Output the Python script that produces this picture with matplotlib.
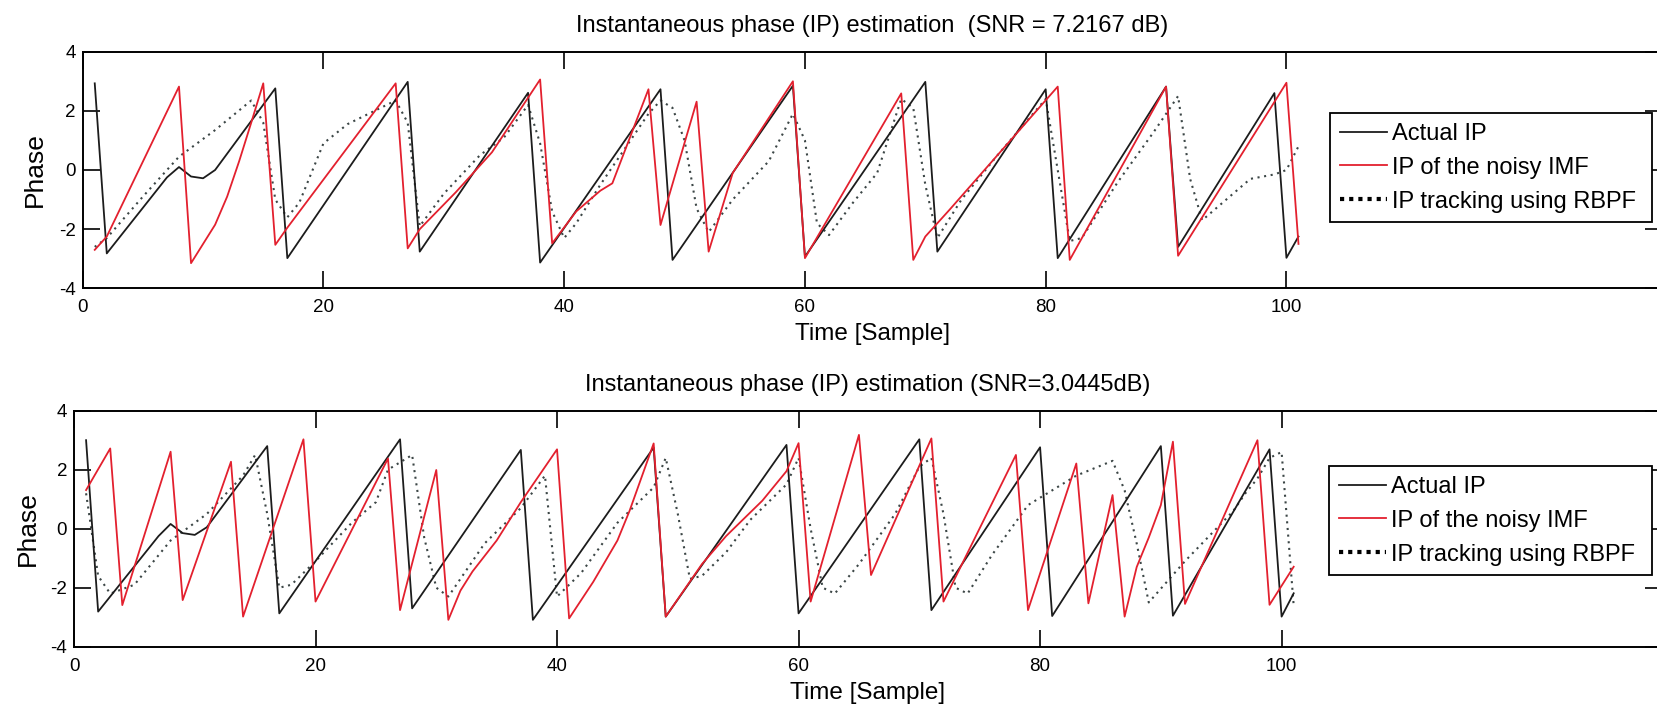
import matplotlib
matplotlib.use("Agg")
import matplotlib.pyplot as plt
import matplotlib.font_manager as fm
from matplotlib.lines import Line2D

# ---------------- data ----------------
# top panel (SNR = 7.2167 dB)
t_actual_top = [1, 2, 7, 8, 9, 10, 11, 16, 17, 27, 28, 37, 38, 48, 49, 59, 60, 70, 71, 80,
                81, 90, 91, 99, 100, 101]
ip_actual_top = [2.93, -2.82, -0.25, 0.1, -0.22, -0.28, 0.0, 2.76, -2.98, 2.98, -2.76, 2.61,
                 -3.13, 2.73, -3.04, 2.85, -2.93, 2.98, -2.76, 2.73, -2.98, 2.82, -2.6, 2.6,
                 -2.97, -2.25]

t_noisy_top = [1, 2, 8, 9, 10, 11, 12, 13, 14, 15, 16, 17, 26, 27, 28, 31, 34, 38, 39, 41,
               43, 44, 47, 48, 51, 52, 54, 59, 60, 68, 69, 70, 72, 81, 82, 90, 91, 100, 101]
ip_noisy_top = [-2.7, -2.25, 2.82, -3.15, -2.5, -1.85, -0.9, 0.3, 1.6, 2.93, -2.53, -1.95,
                2.93, -2.65, -2.0, -0.75, 0.6, 3.06, -2.48, -1.4, -0.7, -0.45, 2.73, -1.86,
                2.31, -2.76, -0.1, 3.0, -2.98, 2.59, -3.04, -2.25, -1.35, 2.82, -3.04, 2.82,
                -2.9, 2.95, -2.5]

t_rbpf_top = [1, 2, 5, 8, 11, 14, 15, 16, 17, 18, 20, 22, 24, 26, 27, 28, 30, 33, 35, 37,
              38, 39, 40, 41, 43, 45, 47, 48, 49, 50, 51, 52, 54, 57, 59, 60, 61, 62, 64, 66,
              68, 69, 70, 71, 73, 76, 80, 81, 82, 83, 86, 89, 91, 92, 93, 95, 97, 99, 100, 101]
ip_rbpf_top = [-2.6, -2.3, -0.9, 0.45, 1.35, 2.35, 1.6, -1.0, -1.6, -1.1, 0.9, 1.55, 1.95,
               2.35, 1.6, -1.9, -0.8, 0.5, 1.1, 2.2, 0.9, -1.4, -2.3, -1.8, -0.5, 0.7, 1.9,
               2.35, 2.1, 1.0, -1.3, -2.1, -1.0, 0.3, 1.9, 1.0, -1.8, -2.2, -1.1, -0.1, 2.4,
               2.1, -0.5, -2.3, -1.0, 0.5, 2.4, 0.0, -2.4, -2.3, -0.4, 1.3, 2.5, -0.3, -1.7,
               -1.0, -0.3, -0.15, 0.0, 0.8]

# bottom panel (SNR = 3.0445 dB)
t_actual_bot = [1, 2, 7, 8, 9, 10, 11, 16, 17, 27, 28, 37, 38, 48, 49, 59, 60, 70, 71, 80,
                81, 90, 91, 99, 100, 101]
ip_actual_bot = [3.0, -2.81, -0.25, 0.16, -0.15, -0.21, 0.05, 2.8, -2.87, 3.03, -2.7, 2.67,
                 -3.09, 2.75, -2.98, 2.84, -2.87, 3.03, -2.76, 2.76, -2.96, 2.8, -2.95, 2.69,
                 -2.98, -2.19]

t_noisy_bot = [1, 3, 4, 8, 9, 13, 14, 19, 20, 26, 27, 30, 31, 32, 33, 35, 37, 40, 41, 43,
               45, 46, 48, 49, 52, 54, 57, 59, 60, 61, 65, 66, 71, 72, 78, 79, 83, 84, 86, 87,
               88, 89, 90, 91, 92, 98, 99, 101]
ip_noisy_bot = [1.31, 2.72, -2.59, 2.61, -2.42, 2.27, -2.98, 3.03, -2.47, 2.38, -2.76, 1.99,
                -3.09, -2.1, -1.45, -0.4, 0.9, 2.69, -3.04, -1.8, -0.4, 0.6, 2.89, -2.98,
                -1.2, -0.25, 0.95, 1.95, 2.9, -2.47, 3.18, -1.57, 3.06, -2.47, 2.5, -2.76,
                2.21, -2.53, 1.14, -2.98, -1.3, -0.3, 0.8, 2.95, -2.55, 3.0, -2.58, -1.29]

t_rbpf_bot = [1, 2, 3, 5, 8, 11, 14, 15, 16, 17, 18, 20, 23, 25, 26, 28, 29, 30, 31, 34,
              37, 39, 40, 42, 45, 48, 49, 50, 51, 52, 54, 56, 59, 60, 61, 62, 63, 65, 68, 70,
              71, 72, 73, 74, 76, 79, 81, 83, 86, 87, 88, 89, 92, 96, 97, 98, 99, 100, 101]
ip_rbpf_bot = [1.2, -1.6, -2.2, -1.9, -0.4, 0.5, 1.8, 2.5, 0.5, -2.0, -1.9, -1.1, 0.2, 0.9,
               2.0, 2.5, -0.3, -2.0, -2.3, -0.5, 0.7, 1.8, -2.3, -1.5, 0.2, 1.4, 2.4, 0.5,
               -1.7, -1.6, -0.8, 0.3, 1.5, 2.4, 0.0, -2.0, -2.2, -1.2, 0.5, 2.1, 2.4, 0.5,
               -2.0, -2.2, -0.9, 0.8, 1.3, 1.8, 2.3, 1.3, -0.5, -2.5, -1.1, 0.6, 1.2, 1.7,
               2.4, 2.6, -2.6]

titles = ["Instantaneous phase (IP) estimation  (SNR = 7.2167 dB)",
          "Instantaneous phase (IP) estimation (SNR=3.0445dB)"]
legend_labels = ["Actual IP", "IP of the noisy IMF", "IP tracking using RBPF"]
x_ticks = [0, 20, 40, 60, 80, 100]
y_ticks = [-4, -2, 0, 2, 4]
x_label = "Time [Sample]"
y_label = "Phase"

# ---------------- fonts ----------------
def pick(fams):
    for f in fams:
        try:
            fm.findfont(fm.FontProperties(family=f), fallback_to_default=False)
            return f
        except Exception:
            pass
    return "DejaVu Sans"

sans = pick(["Liberation Sans", "Arial"])
FAM = [sans, "DejaVu Sans"]

plt.rcParams["axes.unicode_minus"] = False
plt.rcParams["font.family"] = FAM

W, H = 1657, 704
fig = plt.figure(figsize=(W / 100, H / 100), dpi=100)

C_BLACK = "#1c1c1c"
C_RED = "#e3202e"
C_DOT = "#3c4646"

panels = [
    dict(px=(82.7, 51.7, 1662, 288.3), xmax=131.2,
         data=(t_actual_top, ip_actual_top, t_noisy_top, ip_noisy_top, t_rbpf_top, ip_rbpf_top),
         title=titles[0], leg=(1330, 113, 1652, 225), ylab_x=47),
    dict(px=(74, 410.7, 1662, 646.7), xmax=131.5,
         data=(t_actual_bot, ip_actual_bot, t_noisy_bot, ip_noisy_bot, t_rbpf_bot, ip_rbpf_bot),
         title=titles[1], leg=(1329, 466, 1652, 577), ylab_x=40),
]

for p in panels:
    x0, y0, x1, y1 = p["px"]
    ax = fig.add_axes([x0 / W, 1 - y1 / H, (x1 - x0) / W, (y1 - y0) / H])
    ta, ya, tn, yn, tr, yr = p["data"]
    ax.plot(ta, ya, color=C_BLACK, lw=1.3, zorder=3)
    ax.plot(tn, yn, color=C_RED, lw=1.3, zorder=4)
    ax.plot(tr, yr, color=C_DOT, lw=1.5, ls=(0, (1, 2.2)), zorder=2)
    ax.set_xlim(0, p["xmax"])
    ax.set_ylim(-4, 4)
    ax.set_xticks(x_ticks)
    ax.set_yticks(y_ticks)
    ax.tick_params(direction="in", length=12, width=1.2, top=True, right=True,
                   labelsize=13.5, colors="black")
    ax.tick_params(axis="x", pad=8)
    ax.tick_params(axis="y", pad=5)
    for s in ax.spines.values():
        s.set_linewidth(1.4)
    ax.set_title(p["title"], fontsize=17, pad=14)
    ax.set_xlabel(x_label, fontsize=17.5, labelpad=5)
    ax.set_ylabel(y_label, fontsize=19)
    ax.yaxis.set_label_coords((p["ylab_x"] - x0) / (x1 - x0), 0.5)

    lx0, ly0, lx1, ly1 = p["leg"]
    handles = [Line2D([], [], color=C_BLACK, lw=1.3),
               Line2D([], [], color=C_RED, lw=1.3),
               Line2D([], [], color="black", lw=3, ls=(0, (1, 1.2)))]
    leg = ax.legend(handles, legend_labels, loc="upper left",
                    bbox_to_anchor=(lx0 / W, 1 - ly1 / H, (lx1 - lx0) / W, (ly1 - ly0) / H),
                    bbox_transform=fig.transFigure, mode="expand", borderaxespad=0,
                    handlelength=2.0, handletextpad=0.2,
                    labelspacing=0.5, borderpad=0.42, fancybox=False, framealpha=1,
                    edgecolor="black", prop={"family": FAM, "size": 17})
    leg.get_frame().set_linewidth(1.3)

fig.savefig("out.png", dpi=100)
